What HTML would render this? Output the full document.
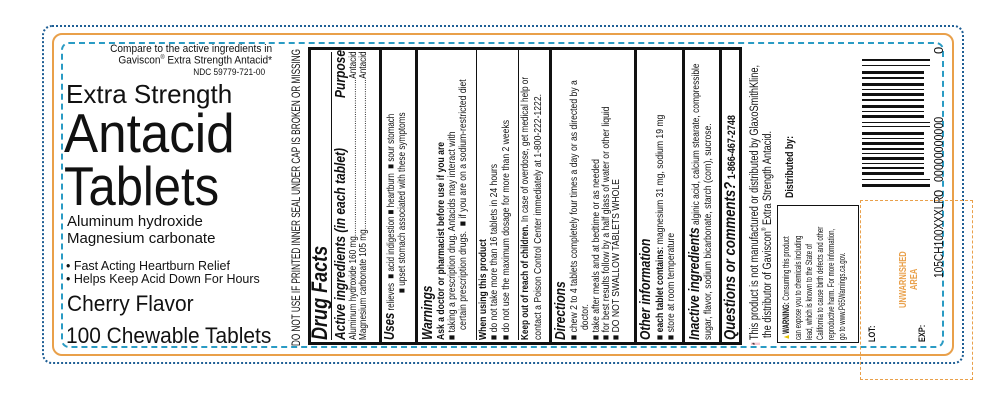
<!DOCTYPE html>
<html><head><meta charset="utf-8"><style>
*{margin:0;padding:0;box-sizing:border-box}
body{width:1000px;height:419px;background:#fff;position:relative;overflow:hidden;font-family:"Liberation Sans",Arial,sans-serif;color:#111}
.a{position:absolute;white-space:nowrap;line-height:1}
.r{position:absolute;left:285px;top:350px;width:310px;height:700px;transform-origin:0 0;transform:rotate(-90deg)}
.l{position:absolute;white-space:nowrap;line-height:1;font-size:10.5px;transform-origin:0 0;transform:scaleX(.82)}
.h{font-weight:bold;font-style:italic}
.t{position:absolute;background:#111}
b{font-weight:bold}
.ing{display:flex;width:370px;transform:scaleX(.78)}
.ing .d{flex:1;overflow:hidden}
</style></head><body>
<div style="position:absolute;left:42px;top:25px;width:922px;height:339px;border:2.5px dotted #1f5f95;border-radius:10px"></div>
<div style="position:absolute;left:52px;top:33px;width:902px;height:323px;border:2px solid #e9a04a;border-radius:10px"></div>
<div style="position:absolute;left:61px;top:42px;width:883px;height:306px;border:2px dashed #2a9bc4;border-radius:8px"></div>
<div style="position:absolute;left:860px;top:200px;width:113px;height:180px;border:1.5px dashed #e9a04a"></div>

<div class="a" style="right:728px;top:44px;font-size:11px;transform:scaleX(.92);transform-origin:right">Compare to the active ingredients in</div>
<div class="a" style="right:728px;top:55px;font-size:11px;transform:scaleX(.92);transform-origin:right">Gaviscon<sup style="font-size:6px">®</sup> Extra Strength Antacid*</div>
<div class="a" style="right:735px;top:68px;font-size:9px;transform:scaleX(.92);transform-origin:right">NDC 59779-721-00</div>
<div class="a" style="left:66px;top:81px;font-size:26px">Extra Strength</div>
<div class="a" style="left:64px;top:106px;font-size:55px;transform:scaleX(.93);transform-origin:left">Antacid</div>
<div class="a" style="left:64px;top:159px;font-size:55px;transform:scaleX(.89);transform-origin:left">Tablets</div>
<div class="a" style="left:67px;top:214px;font-size:15px">Aluminum hydroxide</div>
<div class="a" style="left:67px;top:231px;font-size:15px">Magnesium carbonate</div>
<div class="a" style="left:66px;top:259px;font-size:13px;transform:scaleX(.96);transform-origin:left">• Fast Acting Heartburn Relief</div>
<div class="a" style="left:66px;top:272px;font-size:13px;transform:scaleX(.96);transform-origin:left">• Helps Keep Acid Down For Hours</div>
<div class="a" style="left:67px;top:293px;font-size:22px;transform:scaleX(.95);transform-origin:left">Cherry Flavor</div>
<div class="a" style="left:66px;top:325px;font-size:22px;transform:scaleX(.95);transform-origin:left">100 Chewable Tablets</div>

<div class="r">
 <div class="l" style="left:4px;top:7px;font-size:11.5px;transform:scaleX(.71)">DO NOT USE IF PRINTED INNER SEAL UNDER CAP IS BROKEN OR MISSING</div>
 <div style="position:absolute;left:5px;top:23px;width:298px;height:434px;border:3px solid #111"></div>
 <div class="l h" style="left:10px;top:24px;font-size:22px;transform:scaleX(.82)">Drug Facts</div>
 <div class="t" style="left:10px;top:46px;width:288px;height:1px"></div>
 <div class="l h" style="left:10px;top:48px;font-size:15px;transform:scaleX(.8)">Active ingredients (in each tablet)</div>
 <div class="l h" style="left:252px;top:48px;font-size:15px;transform:scaleX(.8)">Purpose</div>
 <div class="l ing" style="left:10px;top:63px"><span>Aluminum hydroxide 160 mg</span><span class="d">.........................................................................................................................</span><span>Antacid</span></div>
 <div class="l ing" style="left:10px;top:73px"><span>Magnesium carbonate 105 mg</span><span class="d">.........................................................................................................................</span><span>Antacid</span></div>
 <div class="t" style="left:6px;top:94px;width:296px;height:3px"></div>
 <div class="l" style="left:10px;top:97px;transform:scaleX(.76)"><span class="h" style="font-size:15px">Uses</span> relieves &nbsp;■ acid indigestion ■ heartburn &nbsp;■ sour stomach</div>
 <div class="l" style="left:57px;top:112px;transform:scaleX(.78)">■ upset stomach associated with these symptoms</div>
 <div class="t" style="left:6px;top:130px;width:296px;height:3px"></div>
 <div class="l h" style="left:10px;top:135px;font-size:15px;transform:scaleX(.8)">Warnings</div>
 <div class="l" style="left:10px;top:151px"><b>Ask a doctor or pharmacist before use if you are</b></div>
 <div class="l" style="left:10px;top:162px">■ taking a prescription drug. Antacids may interact with</div>
 <div class="l" style="left:20px;top:173px">certain prescription drugs. &nbsp;■ if you are on a sodium-restricted diet</div>
 <div class="t" style="left:10px;top:191px;width:290px;height:1px"></div>
 <div class="l" style="left:10px;top:193px"><b>When using this product</b></div>
 <div class="l" style="left:10px;top:204px">■ do not take more than 16 tablets in 24 hours</div>
 <div class="l" style="left:10px;top:216px">■ do not use the maximum dosage for more than 2 weeks</div>
 <div class="t" style="left:10px;top:233px;width:290px;height:1px"></div>
 <div class="l" style="left:10px;top:235px;transform:scaleX(.78)"><b>Keep out of reach of children.</b> In case of overdose, get medical help or</div>
 <div class="l" style="left:10px;top:248px">contact a Poison Control Center immediately at 1-800-222-1222.</div>
 <div class="t" style="left:6px;top:264px;width:296px;height:3px"></div>
 <div class="l h" style="left:10px;top:268px;font-size:15px;transform:scaleX(.8)">Directions</div>
 <div class="l" style="left:10px;top:284px">■ chew 2 to 4 tablets completely four times a day or as directed by a</div>
 <div class="l" style="left:20px;top:295px">doctor.</div>
 <div class="l" style="left:10px;top:306px">■ take after meals and at bedtime or as needed</div>
 <div class="l" style="left:10px;top:316px">■ for best results follow by a half glass of water or other liquid</div>
 <div class="l" style="left:10px;top:326px">■ DO NOT SWALLOW TABLETS WHOLE</div>
 <div class="t" style="left:6px;top:349px;width:296px;height:3px"></div>
 <div class="l h" style="left:10px;top:353px;font-size:15px;transform:scaleX(.8)">Other information</div>
 <div class="l" style="left:10px;top:370px">■ <b>each tablet contains:</b> magnesium 31 mg, sodium 19 mg</div>
 <div class="l" style="left:10px;top:381px">■ store at room temperature</div>
 <div class="t" style="left:6px;top:397px;width:296px;height:3px"></div>
 <div class="l" style="left:10px;top:402px;transform:scaleX(.8)"><span class="h" style="font-size:15px">Inactive ingredients</span> alginic acid, calcium stearate, compressible</div>
 <div class="l" style="left:10px;top:418px">sugar, flavor, sodium bicarbonate, starch (corn), sucrose.</div>
 <div class="t" style="left:6px;top:434px;width:296px;height:3px"></div>
 <div class="l" style="left:10px;top:438px;font-size:11px;transform:scaleX(.82)"><span class="h" style="font-size:16px">Questions or comments?</span> <b>1-866-467-2748</b></div>

 <div class="l" style="left:5px;top:465px;font-size:11.5px;transform:scaleX(.8)"><span style="background:#f6c9d2;font-size:8px">*</span> This product is not manufactured or distributed by GlaxoSmithKline,</div>
 <div class="l" style="left:12px;top:477px;font-size:11.5px;transform:scaleX(.8)">the distributor of Gaviscon<sup style="font-size:6px">®</sup> Extra Strength Antacid.</div>
 <div class="l" style="left:152px;top:500px;font-size:11px;transform:scaleX(.8)"><b>Distributed by:</b></div>

 <div style="position:absolute;left:7px;top:492px;width:138px;height:82px;border:1px solid #111"></div>
 <div class="l" style="left:10px;top:497px;font-size:9px;transform:scaleX(.68)"><span style="color:#e6c200">▲</span><b>WARNING:</b> Consuming this product</div>
 <div class="l" style="left:10px;top:509px;font-size:9px;transform:scaleX(.68)">can expose you to chemicals including</div>
 <div class="l" style="left:10px;top:520px;font-size:9px;transform:scaleX(.68)">lead, which is known to the State of</div>
 <div class="l" style="left:10px;top:531px;font-size:9px;transform:scaleX(.68)">California to cause birth defects and other</div>
 <div class="l" style="left:10px;top:542px;font-size:9px;transform:scaleX(.68)">reproductive harm. For more information,</div>
 <div class="l" style="left:10px;top:553px;font-size:9px;transform:scaleX(.68)">go to www.P65Warnings.ca.gov.</div>

 <div class="l" style="left:8px;top:583px;font-size:9px"><b>LOT:</b></div>
 <div class="l" style="left:8px;top:633px;font-size:9px"><b>EXP:</b></div>
 <div class="l" style="left:42px;top:614px;font-size:10px;color:#e9a04a;transform:scaleX(.75)"><b>UNWARNISHED</b></div>
 <div class="l" style="left:60px;top:625px;font-size:10px;color:#e9a04a;transform:scaleX(.75)"><b>AREA</b></div>
 <div class="l" style="left:72px;top:647px;font-size:13px;transform:scaleX(.78)">105CH100XXXLR</div>
 <div class="l" style="left:153px;top:647px;font-size:13px;transform:none">0</div>
 <div class="l" style="left:168px;top:647px;font-size:13px;transform:scaleX(.82)">00000000000</div>
 <div class="l" style="left:296px;top:647px;font-size:13px;transform:none">0</div>
 <svg style="position:absolute;left:163px;top:577px" width="130" height="68">
  <g fill="#111">
   <rect x="0" y="0" width="3" height="68"/><rect x="7" y="0" width="1" height="68"/>
   <rect x="12" y="0" width="3" height="62"/><rect x="18" y="0" width="2" height="62"/><rect x="23" y="0" width="1" height="62"/>
   <rect x="27" y="0" width="3" height="62"/><rect x="33" y="0" width="1" height="62"/><rect x="37" y="0" width="2" height="62"/>
   <rect x="42" y="0" width="3" height="62"/><rect x="48" y="0" width="1" height="62"/><rect x="52" y="0" width="3" height="62"/>
   <rect x="60" y="0" width="1" height="68"/><rect x="64" y="0" width="1" height="68"/>
   <rect x="69" y="0" width="3" height="62"/><rect x="75" y="0" width="1" height="62"/><rect x="79" y="0" width="3" height="62"/>
   <rect x="86" y="0" width="2" height="62"/><rect x="91" y="0" width="3" height="62"/><rect x="97" y="0" width="1" height="62"/>
   <rect x="101" y="0" width="3" height="62"/><rect x="108" y="0" width="2" height="62"/><rect x="113" y="0" width="3" height="62"/>
   <rect x="121" y="0" width="1" height="68"/><rect x="126" y="0" width="2" height="68"/>
  </g>
 </svg>
</div>
</body></html>
